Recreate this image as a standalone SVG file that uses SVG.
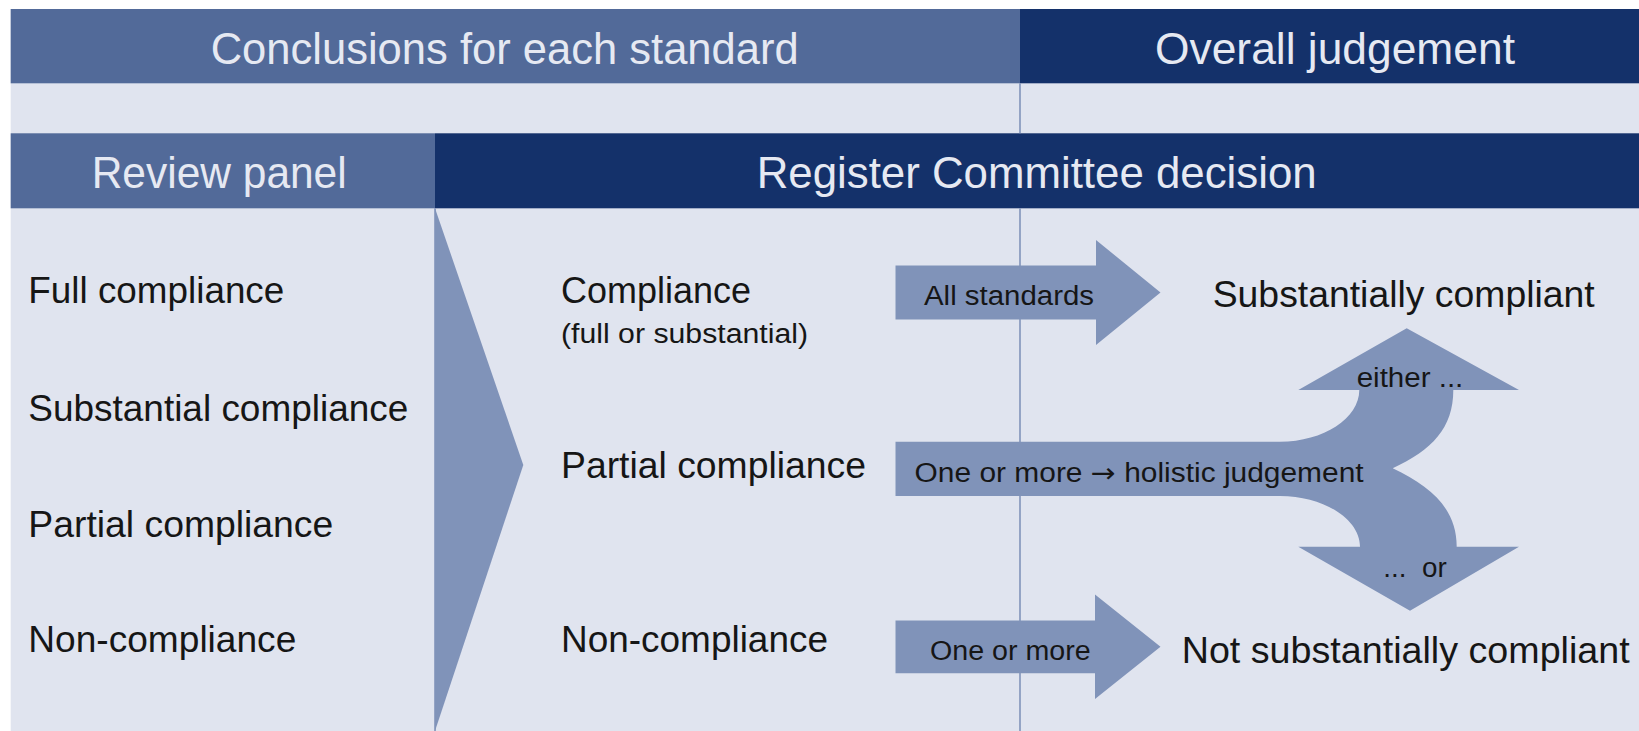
<svg xmlns="http://www.w3.org/2000/svg" width="1639" height="731" viewBox="0 0 1639 731">
<style>
.hdr{font-family:"Liberation Sans",Arial,sans-serif;font-size:44px;fill:#e6e9f2}
.body{font-family:"Liberation Sans",Arial,sans-serif;font-size:36px;fill:#161616}
.small{font-family:"Liberation Sans",Arial,sans-serif;font-size:27px;fill:#161616}
.sym{font-family:"DejaVu Sans",sans-serif}
.arrow{fill:#8093b9}
.mid{fill:#526a99}
.dark{fill:#14316a}
.rule{stroke:#8193ba;stroke-width:1.6;fill:none}
</style>
<rect x="0" y="0" width="1639" height="731" fill="#ffffff"/>
<rect x="10.7" y="9" width="1628.3" height="722" fill="#e0e4ef"/>
<g id="header-conclusions">
<rect class="mid" x="10.7" y="9" width="1009.3" height="74.3"/>
<text class="hdr" x="210.7" y="64" textLength="588" lengthAdjust="spacingAndGlyphs">Conclusions for each standard</text>
</g>
<g id="header-overall">
<rect class="dark" x="1020" y="9" width="619" height="74.3"/>
<text class="hdr" x="1155" y="64" textLength="360" lengthAdjust="spacingAndGlyphs">Overall judgement</text>
</g>
<g id="header-review">
<rect class="mid" x="10.7" y="133.3" width="424.3" height="75"/>
<text class="hdr" x="91.7" y="188.3" textLength="255" lengthAdjust="spacingAndGlyphs">Review panel</text>
</g>
<g id="header-register">
<rect class="dark" x="435" y="133.3" width="1204" height="75"/>
<text class="hdr" x="756.7" y="188.3" textLength="560" lengthAdjust="spacingAndGlyphs">Register Committee decision</text>
</g>
<g id="dividers">
<line class="rule" x1="1020" y1="83.3" x2="1020" y2="133.3"/>
<line class="rule" x1="1020" y1="208.3" x2="1020" y2="731"/>
<line class="rule" x1="435" y1="208.3" x2="435" y2="731"/>
</g>
<g id="chevron">
<polygon class="arrow" points="435,208.3 523.3,465 435,731"/>
</g>
<g id="review-levels">
<text class="body" x="28.3" y="303.3" textLength="256" lengthAdjust="spacingAndGlyphs">Full compliance</text>
<text class="body" x="28.3" y="420.7" textLength="380" lengthAdjust="spacingAndGlyphs">Substantial compliance</text>
<text class="body" x="28.3" y="537.3" textLength="305" lengthAdjust="spacingAndGlyphs">Partial compliance</text>
<text class="body" x="28.3" y="652.3" textLength="268" lengthAdjust="spacingAndGlyphs">Non-compliance</text>
</g>
<g id="rc-compliance">
<text class="body" x="561" y="303.3" textLength="190" lengthAdjust="spacingAndGlyphs">Compliance</text>
<text class="small" x="561" y="342.7" textLength="247" lengthAdjust="spacingAndGlyphs">(full or substantial)</text>
</g>
<g id="rc-partial">
<text class="body" x="561" y="478.3" textLength="305" lengthAdjust="spacingAndGlyphs">Partial compliance</text>
</g>
<g id="rc-non">
<text class="body" x="561" y="652.3" textLength="267" lengthAdjust="spacingAndGlyphs">Non-compliance</text>
</g>
<g id="connectors">
<g id="arrow-all">
<polygon class="arrow" points="895.5,265.5 1096,265.5 1096,240 1160.5,292.5 1096,345 1096,319.5 895.5,319.5"/>
<text class="small" x="924" y="305" textLength="170" lengthAdjust="spacingAndGlyphs">All standards</text>
</g>
<g id="arrow-holistic">
<path class="arrow" d="M895.5 441.7 L1280 441.7 C1323.5 441.7 1359.3 418.4 1359.3 390 L1298.3 390 L1406.7 328.3 L1519 390 L1453.3 390 C1453.3 428 1432 450 1392.7 468.3 C1430 486 1456.7 508 1456.7 546.7 L1519 546.7 L1410 610.7 L1298.3 546.7 L1360 546.7 C1360 519 1323.5 496 1280 496 L895.5 496 Z"/>
<text class="small" x="914.6" y="481.7" textLength="449" lengthAdjust="spacingAndGlyphs">One or more <tspan class="sym">→</tspan> holistic judgement</text>
<text class="small" x="1356.7" y="387.3" textLength="106.6" lengthAdjust="spacingAndGlyphs">either ...</text>
<text class="small" x="1383.3" y="577.3" textLength="63.4" lengthAdjust="spacingAndGlyphs">...&#160;&#160;or</text>
</g>
<g id="arrow-one">
<polygon class="arrow" points="895.5,620.5 1095,620.5 1095,594.5 1160.5,646.7 1095,699 1095,673.3 895.5,673.3"/>
<text class="small" x="930" y="660" textLength="160.7" lengthAdjust="spacingAndGlyphs">One or more</text>
</g>
</g>
<g id="outcome-substantial">
<text class="body" x="1212.7" y="307" textLength="382" lengthAdjust="spacingAndGlyphs">Substantially compliant</text>
</g>
<g id="outcome-not">
<text class="body" x="1181.7" y="663.3" textLength="448" lengthAdjust="spacingAndGlyphs">Not substantially compliant</text>
</g>
</svg>
